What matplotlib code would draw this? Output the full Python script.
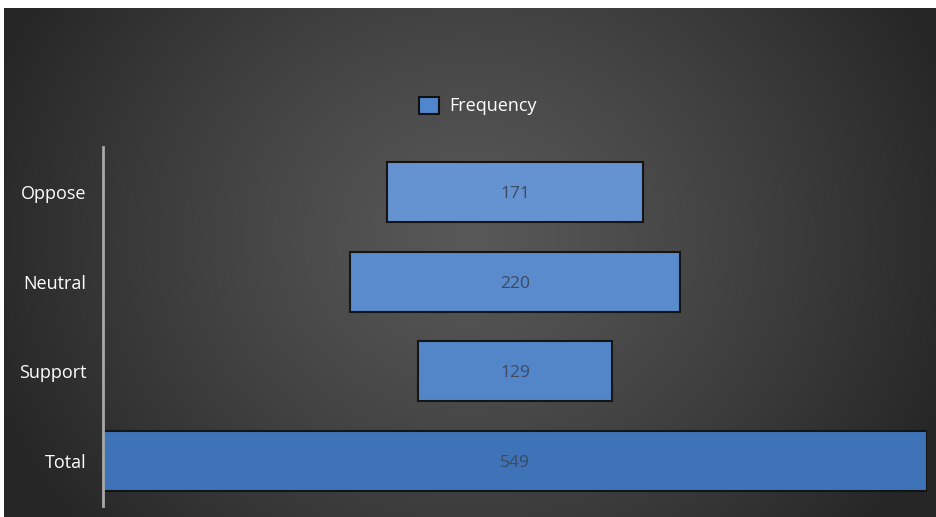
import numpy as np
import matplotlib
matplotlib.use("Agg")
import matplotlib.pyplot as plt

categories = ["Oppose", "Neutral", "Support", "Total"]
values = [171, 220, 129, 549]
series_name = "Frequency"
bar_colors = ["#6593d1", "#5a8bcc", "#5386c8", "#3f73b8"]

W, H = 936, 517
fig = plt.figure(figsize=(W / 100, H / 100), dpi=100, facecolor="white")

# background radial gradient
bg = fig.add_axes([4 / W, 0, (W - 4) / W, (H - 8) / H])
bg.set_axis_off()
ny, nx = 300, 550
yy, xx = np.mgrid[0:ny, 0:nx]
cx, cy = nx * 0.50, ny * 0.45
r = np.sqrt(((xx - cx) / (nx * 0.55)) ** 2 + ((yy - cy) / (ny * 0.9)) ** 2)
r = np.clip(r, 0, 1)
light, dark = 88 / 255, 38 / 255
val = light + (dark - light) * r ** 1.2
img = np.dstack([val, val, val])
bg.imshow(img, aspect="auto", extent=[0, 1, 0, 1], interpolation="bilinear",
          origin="upper")
bg.set_xlim(0, 1)
bg.set_ylim(0, 1)

ax = fig.add_axes([103 / W, 11 / H, 824 / W, 359 / H])
ax.patch.set_alpha(0)
pos = np.arange(len(categories))
ax.barh(pos, values, left=[-v / 2 for v in values], height=0.667,
        color=bar_colors, edgecolor="#151515", linewidth=1.5, label=series_name)
for p, v in zip(pos, values):
    ax.text(0, p, str(v), ha="center", va="center_baseline", color="#3b4a60",
            fontsize=12.5, family=["Open Sans", "DejaVu Sans"])
ax.set_xlim(-274.5, 274.5)
ax.set_ylim(3.5, -0.5)
ax.set_yticks(pos)
ax.set_yticklabels(categories, color="white", fontsize=13,
                   family=["Open Sans", "DejaVu Sans"])
ax.tick_params(axis="y", length=0, pad=12)
ax.set_xticks([])
for s in ["top", "right", "bottom"]:
    ax.spines[s].set_visible(False)
ax.spines["left"].set_color("#a8a8a8")
ax.spines["left"].set_linewidth(2)

leg = fig.legend(handles=[plt.Rectangle((0, 0), 1, 1, facecolor="#4f86cc",
                                        edgecolor="#111111", linewidth=1.5)],
                 labels=[series_name], loc="center", bbox_to_anchor=(478 / W, 1 - 106 / H),
                 frameon=False, handlelength=1.1, handleheight=1.1, handletextpad=0.55,
                 prop={"family": ["Open Sans", "DejaVu Sans"], "size": 13})
for t in leg.get_texts():
    t.set_color("white")

fig.savefig("out.png", dpi=100, facecolor="white")
